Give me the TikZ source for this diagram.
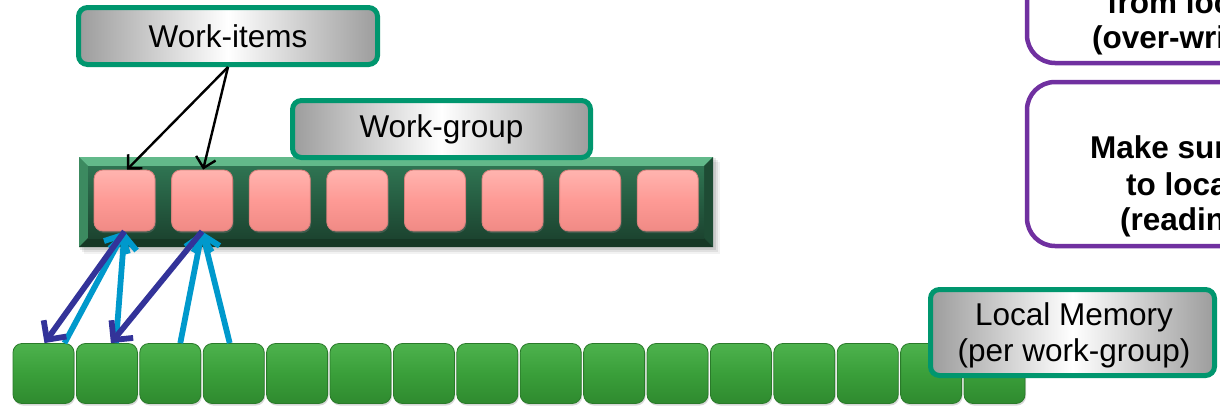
\documentclass[tikz,border=0pt]{standalone}
\usepackage{fontspec}
\setmainfont{Liberation Sans}
\usetikzlibrary{arrows.meta,shadows}
\definecolor{tborder}{HTML}{00966E}
\definecolor{lgray}{HTML}{9C9C9C}
\definecolor{pinkc}{HTML}{FE9A95}
\definecolor{pinkhi}{HTML}{FFB4AF}
\definecolor{pinklo}{HTML}{F08A85}
\definecolor{pinkd}{HTML}{D9817C}
\definecolor{memc}{HTML}{3A9F3A}
\definecolor{memhi}{HTML}{4DB24D}
\definecolor{memlo}{HTML}{2F8A2F}
\definecolor{memd}{HTML}{2A7A2A}
\definecolor{lblue}{HTML}{0099CC}
\definecolor{dblue}{HTML}{333399}
\definecolor{purp}{HTML}{7030A0}
\definecolor{barlight}{HTML}{62B98A}
\definecolor{barleft}{HTML}{3C8A60}
\definecolor{barright}{HTML}{1E4B34}
\definecolor{barbottom}{HTML}{163725}
\definecolor{bartop}{HTML}{2F7452}
\definecolor{barbot}{HTML}{1C4430}
\begin{document}
\begin{tikzpicture}[x=1pt,y=-1pt,
  labelbox/.style={draw=tborder, line width=5pt, rounded corners=9pt,
    left color=lgray, right color=lgray, middle color=white,
    inner sep=0pt, align=center, font=\fontsize{31.5}{36}\selectfont},
  pinkitem/.style={draw=pinkd, line width=0.8pt, rounded corners=9pt,
    top color=pinkhi, bottom color=pinklo, middle color=pinkc,
    minimum width=61pt, minimum height=61pt, inner sep=0pt,
    drop shadow={opacity=0.35, shadow xshift=1pt, shadow yshift=-2pt}},
  memcell/.style={draw=memd, line width=0.8pt, rounded corners=9pt,
    top color=memhi, bottom color=memlo, middle color=memc,
    minimum width=61pt, minimum height=60pt, inner sep=0pt,
    drop shadow={opacity=0.3, shadow xshift=1pt, shadow yshift=-2pt}},
  pbox/.style={draw=purp, line width=4.5pt, rounded corners=28pt},
  ptext/.style={inner sep=0pt, anchor=base west, font=\bfseries\fontsize{31.5}{36}\selectfont},
  plaintext/.style={inner sep=0pt, align=center, font=\fontsize{31.5}{36}\selectfont},
  blk/.style={draw=black, line width=2.4pt, -{Straight Barb[length=10pt,width=20pt]}},
  lb/.style={draw=lblue, line width=5.8pt, -{Straight Barb[length=14pt,width=27pt]}},
  db/.style={draw=dblue, line width=5.8pt, -{Straight Barb[length=14pt,width=28pt]}}]
\useasboundingbox (0,0) rectangle (1220,407);
\clip (0,0) rectangle (1220,407);
\fill[white] (0,0) rectangle (1220,407);

% purple boxes (cut at the right edge)
\draw[pbox] (1027,-100) rectangle (1420,63);
\draw[pbox] (1027,82) rectangle (1420,246);
\node[ptext] (t1) at (1107,13) {from loc};
\node[ptext] (t2) at (1092,48) {(over-wri};
\node[ptext] (t3) at (1090,158) {Make sur};
\node[ptext] (t4) at (1126,195) {to loca};
\node[ptext] (t5) at (1120,230) {(readin};

% work-group bar with soft shadow
\foreach \d/\o in {7/0.05,5/0.07,3/0.09} {
  \fill[black,opacity=\o] ({79+\d-2},{157+\d-2}) rectangle ({713+\d},{247+\d});
}
\node[fill=bartop, minimum width=634pt, minimum height=90pt, inner sep=0pt, anchor=north west] (wg) at (79,157) {};
\fill[barlight] (79,157) -- (713,157) -- (704,166) -- (88,166) -- cycle;
\fill[barleft] (79,157) -- (88,166) -- (88,238) -- (79,247) -- cycle;
\fill[barright] (713,157) -- (713,247) -- (704,238) -- (704,166) -- cycle;
\fill[barbottom] (79,247) -- (713,247) -- (704,238) -- (88,238) -- cycle;
\shade[top color=bartop, bottom color=barbot] (88,166) rectangle (704,238);

% work-items
\foreach \i in {1,...,8} {
  \node[pinkitem] (p\i) at ({124.5+(\i-1)*77.6},200.5) {};
}

% local memory cells
\foreach \i in {1,...,16} {
  \node[memcell] (m\i) at ({43.5+(\i-1)*63.4},373.5) {};
}

% labels
\node[labelbox, minimum width=299pt, minimum height=57pt] (wi) at (228,36) {Work-items};
\node[labelbox, minimum width=298pt, minimum height=57pt] (wgl) at (441.5,129) {Work-group};
\node[labelbox, minimum width=284pt, minimum height=86pt] (lm) at (1072.5,332.5) {};
\node[plaintext] (lmt) at (1074,335) {Local Memory\\(per work-group)};

% connectors
\draw[blk] (wi.south) -- ([xshift=2.5pt]p1.north);
\draw[blk] (wi.south) -- ([xshift=1pt]p2.north);

\draw[lb] ([xshift=21pt]m1.north) -- (p1.south);
\draw[lb] ([xshift=9pt]m2.north) -- (p1.south);
\draw[lb] ([xshift=10pt]m3.north) -- (p2.south);
\draw[lb] ([xshift=-4pt]m4.north) -- (p2.south);
\draw[db] (p1.south) -- ([xshift=1pt]m1.north);
\draw[db] (p2.south) -- ([xshift=4pt]m2.north);
\end{tikzpicture}
\end{document}
